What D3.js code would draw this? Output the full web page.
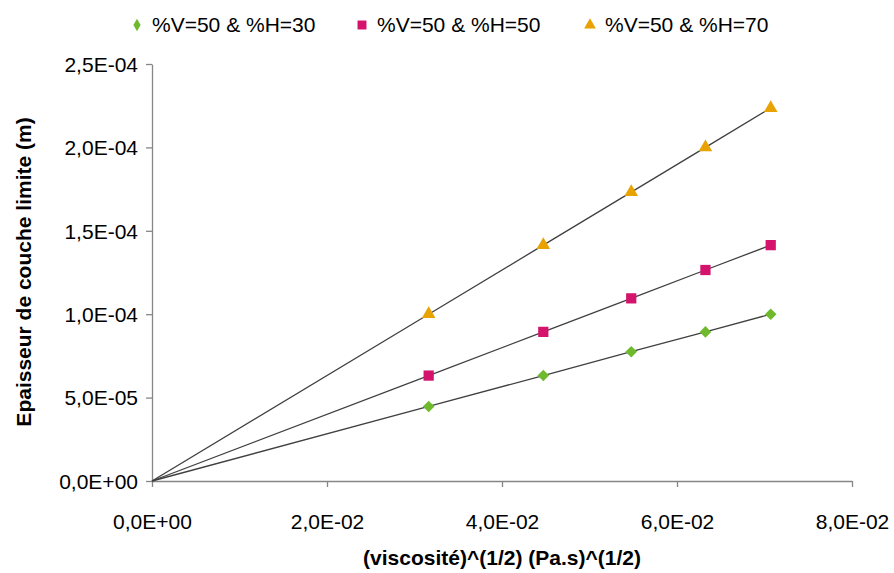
<!DOCTYPE html>
<html><head><meta charset="utf-8">
<script src="https://cdn.jsdelivr.net/npm/d3@7"></script>
<style>
body{margin:0;background:#fff;}
text{font-family:"Liberation Sans",Arial,sans-serif;fill:#000;}
</style></head>
<body><svg id="c" width="894" height="573"></svg>
<script>
const xValues = [0.03162, 0.04472, 0.05477, 0.06325, 0.07071];
const serieH30 = [4.47e-5, 6.32e-5, 7.75e-5, 8.94e-5, 1.0e-4];
const serieH50 = [6.32e-5, 8.94e-5, 1.095e-4, 1.265e-4, 1.414e-4];
const serieH70 = [1.0e-4, 1.414e-4, 1.732e-4, 2.0e-4, 2.236e-4];
const seriesNames = ["%V=50 & %H=30", "%V=50 & %H=50", "%V=50 & %H=70"];
const xTicks = [0, 0.02, 0.04, 0.06, 0.08];
const xTickLabels = ["0,0E+00", "2,0E-02", "4,0E-02", "6,0E-02", "8,0E-02"];
const yTicks = [0, 5e-5, 1e-4, 1.5e-4, 2e-4, 2.5e-4];
const yTickLabels = ["0,0E+00", "5,0E-05", "1,0E-04", "1,5E-04", "2,0E-04", "2,5E-04"];

const series = [
  {name: seriesNames[0], values: serieH30, color: "#6fba2c", sym: d3.symbolDiamond2, size: 85, legSym: d3.symbolDiamond, legSize: 45},
  {name: seriesNames[1], values: serieH50, color: "#d3136c", sym: d3.symbolSquare, size: 105, legSym: d3.symbolSquare, legSize: 80},
  {name: seriesNames[2], values: serieH70, color: "#e8a202", sym: d3.symbolTriangle, size: 80, legSym: d3.symbolTriangle, legSize: 60}
];

const svg = d3.select("#c");
const x = d3.scaleLinear().domain([0, 0.08]).range([152, 852]);
const y = d3.scaleLinear().domain([0, 2.5e-4]).range([481, 64]);
const axisColor = "#868686";

const xAxis = svg.append("g").attr("transform", "translate(0,481)")
  .call(d3.axisBottom(x).tickValues(xTicks).tickSize(6).tickSizeOuter(0)
    .tickFormat((d,i) => xTickLabels[i]));
const yAxis = svg.append("g").attr("transform", "translate(152,0)")
  .call(d3.axisLeft(y).tickValues(yTicks).tickSize(6).tickSizeOuter(0)
    .tickFormat((d,i) => yTickLabels[i]));
[xAxis, yAxis].forEach(g => {
  g.select(".domain").attr("stroke", axisColor).attr("stroke-width", 1.3);
  g.selectAll(".tick line").attr("stroke", axisColor).attr("stroke-width", 1.3);
  g.selectAll(".tick text").attr("font-size", 21).attr("fill", "#000")
    .attr("font-family", "'Liberation Sans', Arial, sans-serif");
});
xAxis.selectAll(".tick text").attr("dy", null).attr("y", 48);
yAxis.selectAll(".tick text").attr("x", -14).attr("dy", "0.35em");

const line = d3.line().x(d => x(d[0])).y(d => y(d[1]));
series.forEach(s => {
  const pts = [[0, 0]].concat(xValues.map((xv, i) => [xv, s.values[i]]));
  svg.append("path").datum(pts).attr("d", line)
    .attr("fill", "none").attr("stroke", "#404040").attr("stroke-width", 1.3);
});
series.forEach(s => {
  svg.append("g").selectAll("path").data(xValues).join("path")
    .attr("d", d3.symbol().type(s.sym).size(s.size))
    .attr("transform", (d, i) => `translate(${x(d)},${y(s.values[i])})`)
    .attr("fill", s.color);
});

// Legend
const legendX = [137, 362, 590];
series.forEach((s, i) => {
  const g = svg.append("g").attr("transform", `translate(${legendX[i]},25)`);
  g.append("path").attr("d", d3.symbol().type(s.legSym).size(s.legSize)).attr("fill", s.color);
  g.append("text").attr("x", 15).attr("dy", "0.35em").attr("font-size", 21).text(s.name);
});

svg.append("text").attr("x", 502).attr("y", 558).attr("dy", "0.35em")
  .attr("text-anchor", "middle").attr("font-size", 21).attr("font-weight", "bold")
  .text("(viscosité)^(1/2) (Pa.s)^(1/2)");
svg.append("text").attr("transform", "translate(24,272) rotate(-90)").attr("dy", "0.35em")
  .attr("text-anchor", "middle").attr("font-size", 21).attr("font-weight", "bold")
  .text("Epaisseur de couche limite (m)");
</script></body></html>
